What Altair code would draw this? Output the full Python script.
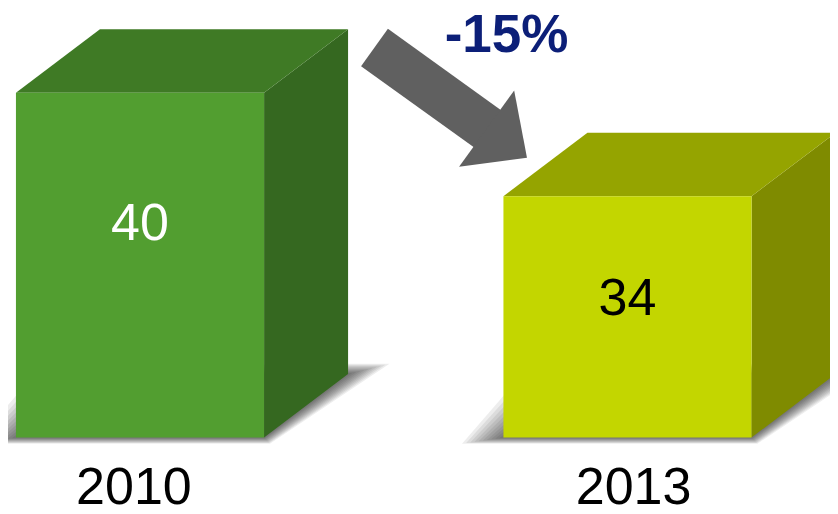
import math
import altair as alt
import pandas as pd

# ---- data ----
years = ["2010", "2013"]
values = [40, 34]
front_colors = ["#529E30", "#C3D600"]
top_colors = ["#3F7A25", "#95A400"]
side_colors = ["#356820", "#7F8B00"]
label_colors = ["#FFFFFF", "#000000"]
change_label = "-15%"

# ---- geometry / style (data units) ----
BASE = 20.0          # value at the floor of the boxes
W = 0.509            # front face width (x units, categories at 0 and 1)
DX = 0.1723          # depth offset x
DY = 3.68            # depth offset y
LABEL_FRAC, LABEL_SHIFT = 0.725, -2.12
YEAR_SPREAD = 0.025
YEAR_Y = BASE - 3.857
PW, PH = 822, 497
X_DOM = [-0.2708, 1.41538]
Y_DOM = [16.085, 44.913]
FONT = "Liberation Sans"

xs = alt.Scale(domain=X_DOM, nice=False, zero=False)
ys = alt.Scale(domain=Y_DOM, nice=False, zero=False)

# soft shadow: (front-left, back-left, front-right, back-right, below, above-back)
SHADOW_OUTER = (0.085, 0.115, 0.012, 0.085, 0.36, 0.6)
SHADOW_STEPS = [1.0, 0.9, 0.8, 0.7, 0.6, 0.5, 0.4, 0.3, 0.2, 0.1]

front_rows, top_rows, side_rows, shadow_rows, label_rows, year_rows = [], [], [], [], [], []
for i, (yr, v) in enumerate(zip(years, values)):
    l, r = i - W / 2, i + W / 2
    front_rows.append(dict(x=l, x2=r, y=BASE, y2=v, c=front_colors[i]))
    top_rows += [dict(g=yr, y=v, x=l, x2=r, c=top_colors[i]),
                 dict(g=yr, y=v + DY, x=l + DX, x2=r + DX, c=top_colors[i])]
    side_rows += [dict(g=yr, x=r, y=BASE, y2=v, c=side_colors[i]),
                  dict(g=yr, x=r + DX, y=BASE + DY, y2=v + DY, c=side_colors[i])]
    for k, t in enumerate(SHADOW_STEPS):
        Lf, Lb, Rf, Rb, down, up = (t * s for s in SHADOW_OUTER)
        g = f"{yr}-{k}"
        shadow_rows += [dict(g=g, y=BASE - down, x=l - Lf, x2=r + Rf),
                        dict(g=g, y=BASE + DY + up, x=l + DX - Lb, x2=r + DX + Rb)]
    label_rows.append(dict(x=i, y=BASE + LABEL_FRAC * (v - BASE) + LABEL_SHIFT, t=str(v), c=label_colors[i]))
    year_rows.append(dict(x=i + (i - 0.5) * YEAR_SPREAD, y=YEAR_Y, t=yr))

front = pd.DataFrame(front_rows)
top = pd.DataFrame(top_rows)
side = pd.DataFrame(side_rows)
shadow = pd.DataFrame(shadow_rows)
labels = pd.DataFrame(label_rows)
yrs = pd.DataFrame(year_rows)

# arrow annotation (data units)
arrow_start = (0.481, 42.62)
arrow_end = (0.716, 37.84)
head_center = (0.7524, 37.07)
ppx = PW / (X_DOM[1] - X_DOM[0])
ppy = PH / (Y_DOM[1] - Y_DOM[0])
ang = math.degrees(math.atan2((arrow_start[1] - head_center[1]) * ppy,
                              (head_center[0] - arrow_start[0]) * ppx))
arrow_df = pd.DataFrame([dict(x=arrow_start[0], y=arrow_start[1], x2=arrow_end[0], y2=arrow_end[1])])
head_df = pd.DataFrame([dict(x=head_center[0], y=head_center[1])])
change_df = pd.DataFrame([dict(x=0.7518, y=43.3, t=change_label)])

X = lambda f="x:Q": alt.X(f, scale=xs, axis=None)
Y = lambda f="y:Q": alt.Y(f, scale=ys, axis=None)

shadow_layer = alt.Chart(shadow).mark_area(orient="horizontal", color="#000000", opacity=0.07).encode(
    y=Y(), x=X(), x2="x2:Q", detail="g:N")
side_layer = alt.Chart(side).mark_area(orient="vertical", opacity=1).encode(
    x=X(), y=Y(), y2="y2:Q", detail="g:N", color=alt.Color("c:N", scale=None))
top_layer = alt.Chart(top).mark_area(orient="horizontal", opacity=1).encode(
    y=Y(), x=X(), x2="x2:Q", detail="g:N", color=alt.Color("c:N", scale=None))
front_layer = alt.Chart(front).mark_rect().encode(
    x=X(), x2="x2:Q", y=Y(), y2="y2:Q", color=alt.Color("c:N", scale=None))
label_layer = alt.Chart(labels).mark_text(font=FONT, fontSize=52, baseline="middle", align="center").encode(
    x=X(), y=Y(), text="t:N", color=alt.Color("c:N", scale=None))
year_layer = alt.Chart(yrs).mark_text(font=FONT, fontSize=52, baseline="alphabetic", align="center",
                                      color="#000000").encode(x=X(), y=Y(), text="t:N")
shaft_layer = alt.Chart(arrow_df).mark_rule(color="#606060", strokeWidth=46, strokeCap="butt").encode(
    x=X(), y=Y(), x2="x2:Q", y2="y2:Q")
head_layer = alt.Chart(head_df).mark_point(
    shape="M-0.53,-1L0.53,0L-0.53,1Z", size=8836, angle=ang, filled=True,
    color="#606060", opacity=1, strokeWidth=0).encode(x=X(), y=Y())
change_layer = alt.Chart(change_df).mark_text(font=FONT, fontSize=53, fontWeight="bold", color="#0C1F78",
                                              baseline="middle", align="center").encode(
    x=X(), y=Y(), text="t:N")

chart = alt.layer(shadow_layer, side_layer, top_layer, front_layer, label_layer, year_layer,
                  shaft_layer, head_layer, change_layer).properties(
    width=PW, height=PH, autosize=alt.AutoSizeParams(type="none"), padding=0,
    background="#FFFFFF").configure_view(stroke=None)

chart.save("out.html", embed_options={"renderer": "svg", "actions": False})
